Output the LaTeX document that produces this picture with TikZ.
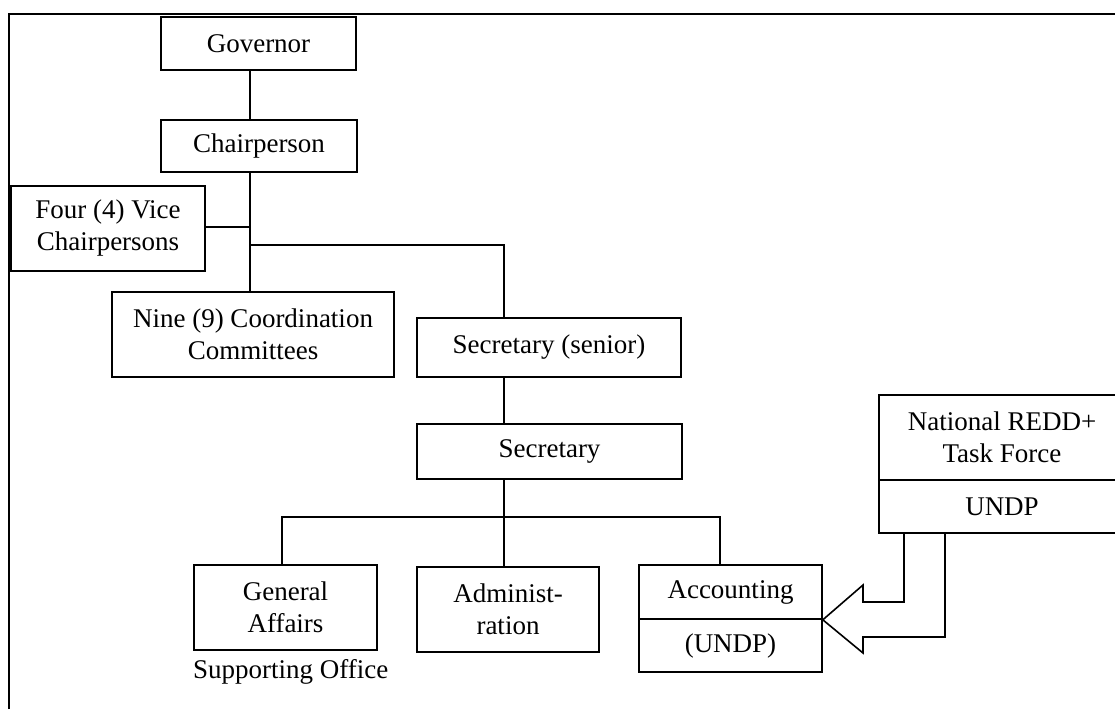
\documentclass[tikz,border=0pt]{standalone}
\usepackage{fontspec}
\setmainfont{Liberation Serif}
\begin{document}
\begin{tikzpicture}[x=1pt,y=-1pt,
  ln/.style={line width=1.7pt},
  box/.style={draw,line width=1.6pt,rectangle,inner sep=0pt,align=center,
    font=\fontsize{27}{32}\selectfont},
  lbl/.style={inner sep=0pt,font=\fontsize{27}{32}\selectfont}]
\clip (0,0) rectangle (1115,709);

% outer frame (top and left edges only)
\draw[ln] (9,709) -- (9,14) -- (1115,14);

% boxes
\node[box,minimum width=195pt,minimum height=53pt] (gov) at (258.5,43.5) {Governor};
\node[box,minimum width=196pt,minimum height=52pt] (chair) at (259,146) {Chairperson};
\node[box,minimum width=194pt,minimum height=85pt] (vice) at (108,228.5) {Four (4) Vice\\Chairpersons};
\node[box,minimum width=282pt,minimum height=85pt] (nine) at (253,334.5) {Nine (9) Coordination\\Committees};
\node[box,minimum width=264pt,minimum height=59pt] (senior) at (549,347.5) {Secretary (senior)};
\node[box,minimum width=265pt,minimum height=55pt] (sec) at (549.5,451.5) {Secretary};
\node[box,minimum width=183pt,minimum height=85pt] (ga) at (285.5,607.5) {General\\Affairs};
\node[box,minimum width=182pt,minimum height=85pt] (adm) at (508,609.5) {Administ-\\ration};
\node[box,minimum width=183pt,minimum height=54pt] (acct) at (730.5,592) {Accounting};
\node[box,minimum width=183pt,minimum height=53pt] (accb) at (730.5,645.5) {(UNDP)};
\node[box,minimum width=246pt,minimum height=85pt] (tft) at (1002,437.5) {National REDD+\\Task Force};
\node[box,minimum width=246pt,minimum height=53pt] (tfb) at (1002,506.5) {UNDP};
\node[lbl,anchor=base west] (supp) at (193,678) {Supporting Office};

% junctions of the connector lines
\coordinate (j1) at (250,227);
\coordinate (j2) at (250,245);
\coordinate (j3) at (504,245);
\coordinate (bus) at (504,517);
\coordinate (dga) at (282,517);
\coordinate (dac) at (720,517);

% connectors
\draw[ln] (gov.south -| j1) -- (chair.north -| j1);
\draw[ln] (chair.south -| j1) -- (nine.north -| j1);
\draw[ln] (vice.east |- j1) -- (j1);
\draw[ln] (j2) -- (j3) -- (senior.north -| j3);
\draw[ln] (senior.south -| j3) -- (sec.north -| j3);
\draw[ln] (sec.south -| bus) -- (adm.north -| bus);
\draw[ln] (ga.north -| dga) -- (dga) -- (dac) -- (acct.north -| dac);

% block arrow from the Task Force to Accounting
\coordinate (a1) at (904,602);
\coordinate (a2) at (945,637);
\draw[line width=1.6pt,line join=miter]
  (tfb.south -| a1) -- (a1) -- (863,602) -- (863,585)
  -- (acct.south east) -- (863,653) -- (863,637) -- (a2) -- (tfb.south -| a2);
\end{tikzpicture}
\end{document}
